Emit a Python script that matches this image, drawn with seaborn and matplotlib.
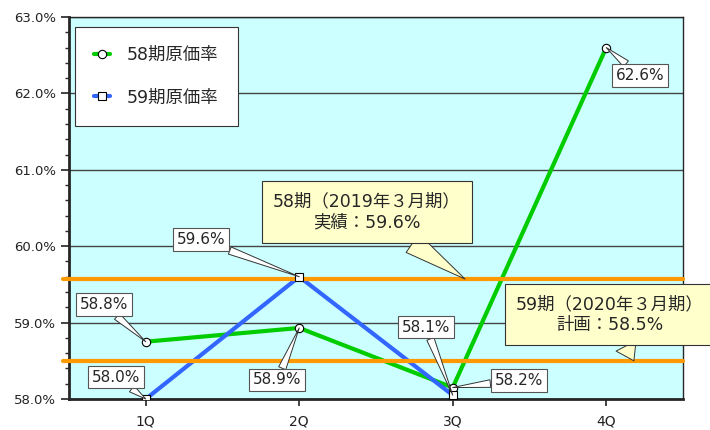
import pandas as pd
import numpy as np
import matplotlib
matplotlib.use('Agg')
import matplotlib.pyplot as plt
from matplotlib.lines import Line2D
from matplotlib.ticker import MultipleLocator, FuncFormatter
import seaborn as sns

# data
quarters = ['1Q', '2Q', '3Q', '4Q']
rate58 = [58.75, 58.93, 58.15, 62.6]
rate59 = [58.0, 59.6, 58.05, np.nan]
labels58 = ['58.8%', '58.9%', '58.2%', '62.6%']
labels59 = ['58.0%', '59.6%', '58.1%', None]
actual58 = 59.57
plan59 = 58.5
actual_text = '58期（2019年３月期）\n実績：59.6%'
plan_text = '59期（2020年３月期）\n計画：58.5%'

green = '#00CC00'
blue = '#3366FF'
orange = '#FF9900'

sns.set_style('ticks')
plt.rcParams['font.family'] = ['DejaVu Sans', 'Noto Sans CJK JP']

df = pd.DataFrame({'Q': quarters, 'r58': rate58, 'r59': rate59})

fig = plt.figure(figsize=(7.1, 4.3), dpi=100)
ax = fig.add_axes([69/710, 31/430, 614/710, 382/430])
ax.set_facecolor('#CCFFFF')

ax.yaxis.grid(True, which='major', color='#444444', lw=1)
ax.set_axisbelow(True)

mk = dict(markerfacecolor='white', markeredgecolor='black', markeredgewidth=0.8, markersize=6)
sns.lineplot(data=df, x='Q', y='r58', ax=ax, color=green, lw=3, zorder=2, legend=False)
sns.lineplot(data=df, x='Q', y='r59', ax=ax, color=blue, lw=3, zorder=3, legend=False)

ax.axhline(actual58, xmin=-0.01, xmax=1, color=orange, lw=3, zorder=4, clip_on=False)
ax.axhline(plan59, xmin=-0.01, xmax=1, color=orange, lw=3, zorder=4, clip_on=False)

xs = np.arange(len(quarters))
ax.plot(xs, rate58, ls='none', marker='o', zorder=5, **mk)
ax.plot(xs, rate59, ls='none', marker='s', zorder=5, **mk)

ax.set_xlim(-0.5, 3.5)
ax.set_ylim(58, 63)
ax.yaxis.set_major_locator(MultipleLocator(1))
ax.yaxis.set_minor_locator(MultipleLocator(0.2))
ax.yaxis.set_major_formatter(FuncFormatter(lambda v, p: f'{v:.1f}%'))
ax.set_xticks(xs)
ax.set_xticklabels(quarters)
ax.tick_params(axis='both', labelsize=9.5, colors='#222222', direction='out')
ax.tick_params(axis='y', which='major', length=6, width=1.2)
ax.tick_params(axis='y', which='minor', length=3, width=1)
ax.tick_params(axis='x', length=5, width=1.2, pad=6, labelsize=10)
ax.set_xlabel('')
ax.set_ylabel('')
for s in ['left', 'bottom']:
    ax.spines[s].set_linewidth(2)
for s in ['top', 'right']:
    ax.spines[s].set_linewidth(1)
    ax.spines[s].set_visible(True)

# value callouts (offset in pixels from the point)
offs58 = [(-42, 37), (-22, -52), (66, 7), (34, -28)]
offs59 = [(-30, 22), (-98, 37), (-27, 68), None]
box = dict(boxstyle='square,pad=0.25', fc='white', ec='#555555', lw=0.8)
wedge = dict(arrowstyle='wedge,tail_width=0.5,shrink_factor=0.5', fc='white', ec='#333333',
             lw=0.7, shrinkA=0, shrinkB=0)
for vals, labs, offs in [(rate58, labels58, offs58), (rate59, labels59, offs59)]:
    for i, (v, t, o) in enumerate(zip(vals, labs, offs)):
        if t is None:
            continue
        ax.annotate(t, xy=(i, v), xytext=o, textcoords='offset pixels', fontsize=11,
                    ha='center', va='center', bbox=box, arrowprops=wedge, zorder=6,
                    annotation_clip=False)

ybox = dict(boxstyle='square,pad=0.65', fc='#FFFFCC', ec='#333333', lw=0.8)
ywedge = dict(arrowstyle='wedge,tail_width=1.3,shrink_factor=0.5', fc='#FFFFCC', ec='#333333',
              lw=0.7, shrinkA=0, shrinkB=0)
cfam = ['DejaVu Sans', 'Noto Sans CJK JP']
ax.annotate(actual_text, xy=(2.08, actual58), xytext=(-98, 67), textcoords='offset pixels',
            fontsize=12.5, ha='center', va='center', linespacing=1.2, bbox=ybox,
            arrowprops=ywedge, zorder=7, family=cfam)
ax.annotate(plan_text, xy=(3.18, plan59), xytext=(-24, 46), textcoords='offset pixels',
            fontsize=12.5, ha='center', va='center', linespacing=1.2, bbox=ybox,
            arrowprops=ywedge, zorder=7, annotation_clip=False, family=cfam)

handles = [
    Line2D([], [], color=green, lw=3, marker='o', **mk),
    Line2D([], [], color=blue, lw=3, marker='s', **mk),
]
leg = ax.legend(handles, ['58期原価率', '59期原価率'], loc='upper left',
                bbox_to_anchor=(6/614, 1 - 10/382), borderaxespad=0, handlelength=0.9,
                labelspacing=1.4, borderpad=1.1, handletextpad=1.0, fancybox=False,
                framealpha=1, edgecolor='#333333',
                prop={'family': cfam, 'size': 12.5})
leg.get_frame().set_linewidth(0.8)
leg.set_zorder(8)

fig.savefig('out.png', dpi=100)
